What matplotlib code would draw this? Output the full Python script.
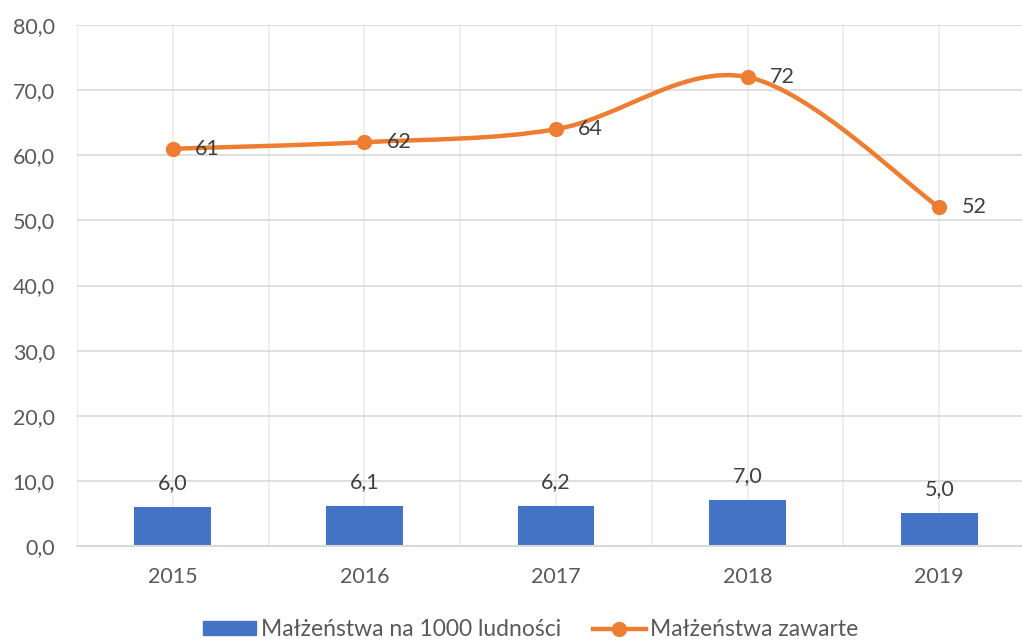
import numpy as np
import matplotlib
matplotlib.use("Agg")
import matplotlib.pyplot as plt
from matplotlib.path import Path
from matplotlib.patches import PathPatch, Patch
from matplotlib.lines import Line2D
from matplotlib.ticker import FuncFormatter, MultipleLocator

plt.rcParams["font.family"] = ["Lato", "DejaVu Sans"]

years = ["2015", "2016", "2017", "2018", "2019"]
per_1000 = [6.0, 6.1, 6.2, 7.0, 5.0]
zawarte = [61, 62, 64, 72, 52]

BLUE = "#4472C4"
ORANGE = "#ED7D31"
TXT = "#595959"
LBL = "#404040"

fig = plt.figure(figsize=(10.22, 6.4), dpi=100)
ax = fig.add_axes([77 / 1022, 1 - 546 / 640, (1035 - 77) / 1022, (546 - 25) / 640])

x = np.arange(len(years))
ax.bar(x, per_1000, width=0.4, color=BLUE, zorder=2)
for xi, v in zip(x, per_1000):
    ax.annotate(f"{v:.1f}".replace(".", ","), (xi, v), xytext=(0, 10),
                textcoords="offset points", ha="center", va="bottom",
                fontsize=15.5, color=LBL)

# smoothed line (Catmull-Rom style bezier, like Excel's smoothing)
y = np.array(zawarte, dtype=float)
verts = [(x[0], y[0])]
codes = [Path.MOVETO]
for i in range(len(x) - 1):
    p0 = (x[max(i - 1, 0)], y[max(i - 1, 0)])
    p1 = (x[i], y[i])
    p2 = (x[i + 1], y[i + 1])
    p3 = (x[min(i + 2, len(x) - 1)], y[min(i + 2, len(x) - 1)])
    c1 = (p1[0] + (p2[0] - p0[0]) / 6, p1[1] + (p2[1] - p0[1]) / 6)
    c2 = (p2[0] - (p3[0] - p1[0]) / 6, p2[1] - (p3[1] - p1[1]) / 6)
    verts += [c1, c2, p2]
    codes += [Path.CURVE4] * 3
ax.add_patch(PathPatch(Path(verts, codes), fill=False, edgecolor=ORANGE,
                       lw=3.2, capstyle="round", zorder=3))
ax.plot(x, y, "o", color=ORANGE, ms=10, zorder=4)
for xi, v in zip(x, zawarte):
    ax.annotate(str(v), (xi, v), xytext=(16, 0), textcoords="offset points",
                ha="left", va="center", fontsize=15.5, color=LBL, zorder=5)

ax.set_xlim(-0.5, 4.5)
ax.set_ylim(0, 80)
ax.yaxis.set_major_locator(MultipleLocator(10))
ax.yaxis.set_major_formatter(FuncFormatter(lambda v, p: f"{v:.1f}".replace(".", ",")))
ax.set_xticks(x)
ax.set_xticklabels(years)
ax.set_xticks(np.arange(-0.5, 5.0, 1.0), minor=True)
ax.grid(axis="y", color="#d9d9d9", lw=1.2, zorder=0)
ax.grid(axis="x", which="both", color="#ebebeb", lw=1.2, zorder=0)
ax.tick_params(axis="both", which="both", length=0, labelsize=15.5, colors=TXT)
ax.tick_params(axis="x", pad=15)
ax.tick_params(axis="y", pad=16)
for s in ["left", "right", "top"]:
    ax.spines[s].set_visible(False)
ax.spines["bottom"].set_color("#d9d9d9")
ax.spines["bottom"].set_linewidth(1.5)
ax.set_axisbelow(True)

handles = [Patch(color=BLUE, label="Małżeństwa na 1000 ludności"),
           Line2D([], [], color=ORANGE, lw=3.2, marker="o", ms=10,
                  label="Małżeństwa zawarte")]
fig.legend(handles=handles, loc="center", bbox_to_anchor=(531 / 1022, 1 - 630 / 640),
           ncol=2, frameon=False, fontsize=16.5, labelcolor=TXT,
           handlelength=2.3, handleheight=0.55, handletextpad=0.2, columnspacing=1.4)

fig.savefig("out.png", dpi=100)
